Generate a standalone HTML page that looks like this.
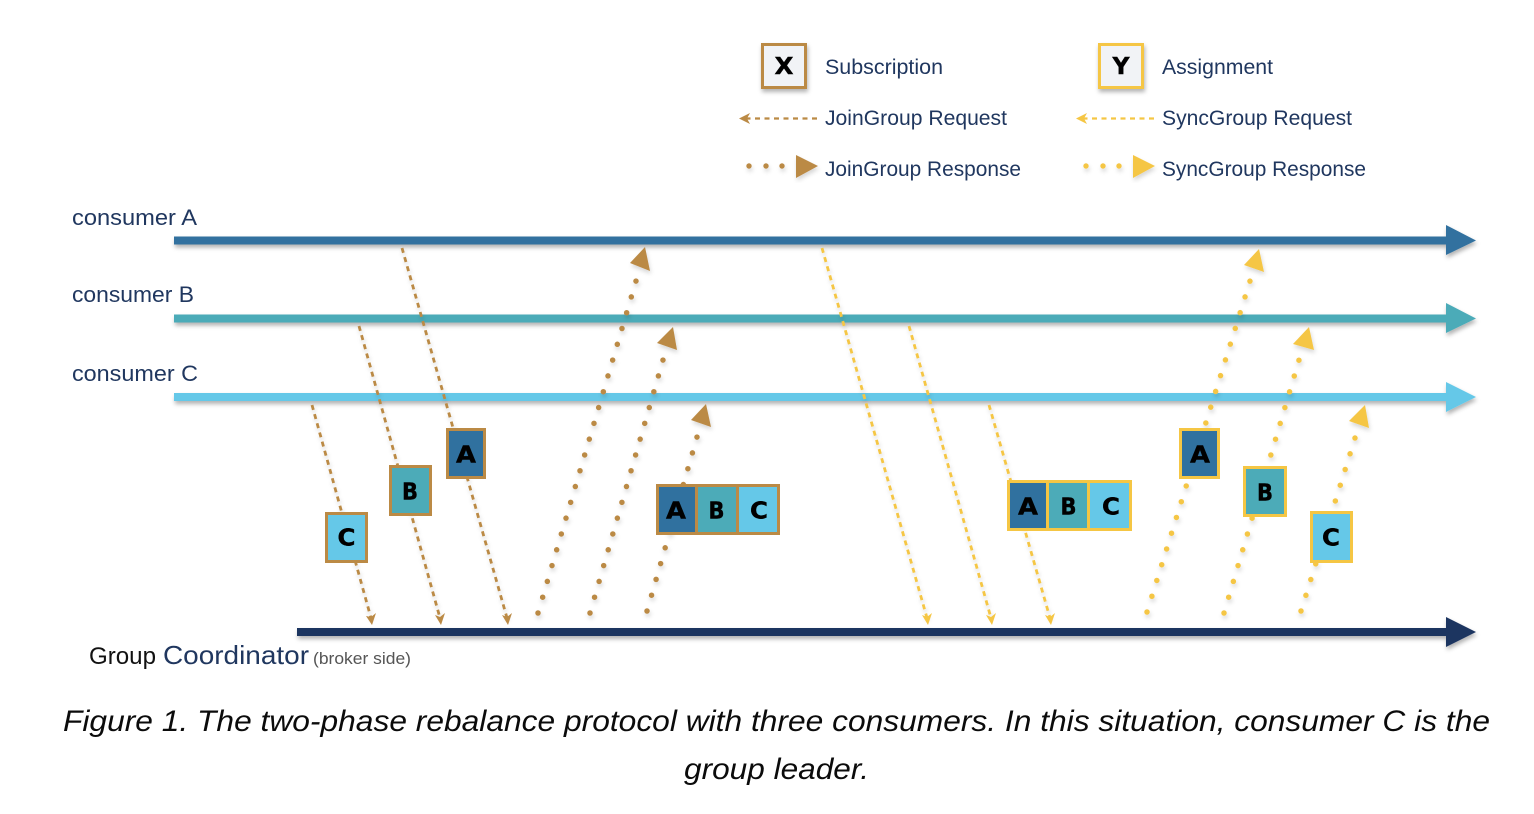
<!DOCTYPE html>
<html>
<head>
<meta charset="utf-8">
<style>
html,body{margin:0;padding:0;background:#fff;}
svg{display:block;}
text{font-family:"Liberation Sans",sans-serif;}
.t{fill:#20375f;font-size:21px;}
.cap{fill:#0b0b0b;font-size:30px;font-style:italic;}
.l{font-family:"DejaVu Sans",sans-serif;font-weight:bold;font-size:23px;fill:#000;stroke:#000;stroke-width:.4px;text-anchor:middle;}
</style>
</head>
<body>
<svg width="1534" height="814" viewBox="0 0 1534 814" xmlns="http://www.w3.org/2000/svg">
<defs>
<filter id="s" x="-20%" y="-20%" width="140%" height="160%"><feDropShadow dx="1" dy="3" stdDeviation="2" flood-color="#000" flood-opacity=".3"/></filter>
<filter id="d" x="-20%" y="-20%" width="140%" height="140%"><feDropShadow dx="1" dy="3" stdDeviation="2" flood-color="#000" flood-opacity=".16"/></filter>
<filter id="ln" x="-5%" y="-300%" width="110%" height="700%"><feDropShadow dx="1" dy="3" stdDeviation="2" flood-color="#000" flood-opacity=".3"/></filter>
</defs>
<rect width="1534" height="814" fill="#fff"/>

<!-- timelines -->
<g filter="url(#ln)"><rect x="174" y="236.500" width="1273" height="8" fill="#30719f"/><polygon points="1446,225 1476,240.500 1446,255" fill="#30719f"/></g>
<g filter="url(#ln)"><rect x="174" y="314.500" width="1273" height="8" fill="#4cabb8"/><polygon points="1446,303 1476,318.500 1446,333" fill="#4cabb8"/></g>
<g filter="url(#ln)"><rect x="174" y="393" width="1273" height="8" fill="#65c8e8"/><polygon points="1446,382 1476,397 1446,412" fill="#65c8e8"/></g>
<g filter="url(#ln)"><rect x="297" y="628" width="1150" height="8" fill="#1d3461"/><polygon points="1446,617 1476,632 1446,647" fill="#1d3461"/></g>

<!-- requests: brown -->
<g fill="none" stroke="#bb8a45" stroke-width="2.800" stroke-dasharray="5 4.500" filter="url(#d)">
<line x1="402" y1="248" x2="507" y2="618"/>
<line x1="359" y1="326" x2="440" y2="618"/>
<line x1="312" y1="405" x2="371" y2="618"/>
</g>
<g fill="#bb8a45">
<polygon points="508,625 502,615 507,617 512,613"/>
<polygon points="441,625 435,615 440,617 445,613"/>
<polygon points="372,625 366,616 371,617 376,613"/>
</g>
<!-- requests: yellow -->
<g fill="none" stroke="#f5c644" stroke-width="2.800" stroke-dasharray="5 4.500" filter="url(#d)">
<line x1="822" y1="248" x2="927" y2="618"/>
<line x1="909" y1="326" x2="991" y2="618"/>
<line x1="989" y1="405" x2="1050" y2="618"/>
</g>
<g fill="#f5c644">
<polygon points="928,625 922,615 927,617 932,613"/>
<polygon points="992,625 986,615 991,617 996,613"/>
<polygon points="1051,625 1045,615 1050,617 1055,613"/>
</g>

<!-- responses: brown -->
<g fill="none" stroke="#bb8a45" stroke-width="5.500" stroke-linecap="round" filter="url(#d)">
<line x1="538" y1="613" x2="636" y2="281" stroke-dasharray="0 16.480"/>
<line x1="590" y1="613" x2="663" y2="360" stroke-dasharray="0 16.450"/>
<line x1="647" y1="611" x2="697" y2="437" stroke-dasharray="0 16.450"/>
</g>
<g fill="#bb8a45" filter="url(#d)">
<polygon points="645,247 630,263 650,271"/>
<polygon points="673,327 657,343 677,350"/>
<polygon points="706,404 691,420 711,427"/>
</g>
<!-- responses: yellow -->
<g fill="none" stroke="#f5c644" stroke-width="5.500" stroke-linecap="round" filter="url(#d)">
<line x1="1147" y1="612" x2="1250" y2="281" stroke-dasharray="0 16.500"/>
<line x1="1224" y1="613" x2="1299" y2="360" stroke-dasharray="0 16.480"/>
<line x1="1301" y1="611" x2="1355" y2="438" stroke-dasharray="0 16.470"/>
</g>
<g fill="#f5c644" filter="url(#d)">
<polygon points="1259,249 1244,265 1264,272"/>
<polygon points="1309,327 1293,344 1314,350"/>
<polygon points="1365,405 1349,421 1369,428"/>
</g>

<!-- brown boxes -->
<g stroke="#bb8a45" stroke-width="3">
<rect x="326.500" y="513.500" width="40" height="48" fill="#65c8e8"/>
<rect x="390.500" y="466.500" width="40" height="48" fill="#4cabb8"/>
<rect x="447.500" y="429.500" width="37" height="48" fill="#30719f"/>
<rect x="657.500" y="485.500" width="39" height="48" fill="#30719f"/>
<rect x="696.500" y="485.500" width="41" height="48" fill="#4cabb8"/>
<rect x="737.500" y="485.500" width="41" height="48" fill="#65c8e8"/>
</g>
<text class="l" x="346.500" y="545.500" textLength="18" lengthAdjust="spacingAndGlyphs">C</text>
<text class="l" x="410" y="499.500" textLength="16" lengthAdjust="spacingAndGlyphs">B</text>
<text class="l" x="466" y="462.500" textLength="20" lengthAdjust="spacingAndGlyphs">A</text>
<text class="l" x="676" y="518.500" textLength="20" lengthAdjust="spacingAndGlyphs">A</text>
<text class="l" x="716.500" y="518.500" textLength="16" lengthAdjust="spacingAndGlyphs">B</text>
<text class="l" x="759" y="518.500" textLength="18" lengthAdjust="spacingAndGlyphs">C</text>

<!-- yellow boxes -->
<g stroke="#f5c644" stroke-width="3">
<rect x="1008.500" y="481.500" width="39" height="48" fill="#30719f"/>
<rect x="1047.500" y="481.500" width="41" height="48" fill="#4cabb8"/>
<rect x="1088.500" y="481.500" width="42" height="48" fill="#65c8e8"/>
<rect x="1180.500" y="429.500" width="38" height="48" fill="#30719f"/>
<rect x="1244.500" y="467.500" width="41" height="48" fill="#4cabb8"/>
<rect x="1311.500" y="512.500" width="40" height="49" fill="#65c8e8"/>
</g>
<text class="l" x="1028" y="514.500" textLength="20" lengthAdjust="spacingAndGlyphs">A</text>
<text class="l" x="1068.500" y="514.500" textLength="16" lengthAdjust="spacingAndGlyphs">B</text>
<text class="l" x="1111" y="514.500" textLength="18" lengthAdjust="spacingAndGlyphs">C</text>
<text class="l" x="1200" y="462.500" textLength="20" lengthAdjust="spacingAndGlyphs">A</text>
<text class="l" x="1265" y="500.500" textLength="16" lengthAdjust="spacingAndGlyphs">B</text>
<text class="l" x="1331" y="545.500" textLength="18" lengthAdjust="spacingAndGlyphs">C</text>

<!-- legend -->
<rect x="762.500" y="44.500" width="43" height="43" fill="#f1f3f6" stroke="#bb8a45" stroke-width="3" filter="url(#s)"/>
<text class="l" x="784" y="74" textLength="19" lengthAdjust="spacingAndGlyphs">X</text>
<rect x="1099.500" y="44.500" width="43" height="43" fill="#f1f3f6" stroke="#f5c644" stroke-width="3" filter="url(#s)"/>
<text class="l" x="1121" y="74" textLength="17" lengthAdjust="spacingAndGlyphs">Y</text>

<line x1="817" y1="118.500" x2="746" y2="118.500" stroke="#bb8a45" stroke-width="2.200" stroke-dasharray="5 4.500"/>
<polygon points="739,118.500 750,113 747,118.500 750,124" fill="#bb8a45"/>
<line x1="1154" y1="118.500" x2="1083" y2="118.500" stroke="#f5c644" stroke-width="2.200" stroke-dasharray="5 4.500"/>
<polygon points="1076,118.500 1087,113 1084,118.500 1087,124" fill="#f5c644"/>

<g fill="#bb8a45" filter="url(#d)">
<circle cx="749" cy="166" r="2.700"/><circle cx="766" cy="166" r="2.700"/><circle cx="782" cy="166" r="2.700"/>
<polygon points="796,155 818,166 796,178"/>
</g>
<g fill="#f5c644" filter="url(#d)">
<circle cx="1086" cy="166" r="2.700"/><circle cx="1103" cy="166" r="2.700"/><circle cx="1119" cy="166" r="2.700"/>
<polygon points="1133,155 1155,166 1133,178"/>
</g>

<text class="t" x="825" y="74" textLength="118" lengthAdjust="spacingAndGlyphs">Subscription</text>
<text class="t" x="1162" y="74" textLength="111" lengthAdjust="spacingAndGlyphs">Assignment</text>
<text class="t" x="825" y="125" textLength="182" lengthAdjust="spacingAndGlyphs">JoinGroup Request</text>
<text class="t" x="1162" y="125" textLength="190" lengthAdjust="spacingAndGlyphs">SyncGroup Request</text>
<text class="t" x="825" y="176" textLength="196" lengthAdjust="spacingAndGlyphs">JoinGroup Response</text>
<text class="t" x="1162" y="176" textLength="204" lengthAdjust="spacingAndGlyphs">SyncGroup Response</text>

<!-- row labels -->
<text class="t" x="72" y="225" style="font-size:22px" textLength="125" lengthAdjust="spacingAndGlyphs">consumer A</text>
<text class="t" x="72" y="302" style="font-size:22px" textLength="122" lengthAdjust="spacingAndGlyphs">consumer B</text>
<text class="t" x="72" y="381" style="font-size:22px" textLength="126" lengthAdjust="spacingAndGlyphs">consumer C</text>

<text x="89" y="664" style="font-size:24px" fill="#111" textLength="67" lengthAdjust="spacingAndGlyphs">Group</text>
<text x="163" y="664" style="font-size:26px" fill="#20375f" textLength="146" lengthAdjust="spacingAndGlyphs">Coordinator</text>
<text x="313" y="664" style="font-size:17px" fill="#555" textLength="98" lengthAdjust="spacingAndGlyphs">(broker side)</text>

<!-- caption -->
<text class="cap" x="63" y="731" textLength="1427" lengthAdjust="spacingAndGlyphs">Figure 1. The two-phase rebalance protocol with three consumers. In this situation, consumer C is the</text>
<text class="cap" x="684" y="779" textLength="185" lengthAdjust="spacingAndGlyphs">group leader.</text>
</svg>
</body>
</html>
